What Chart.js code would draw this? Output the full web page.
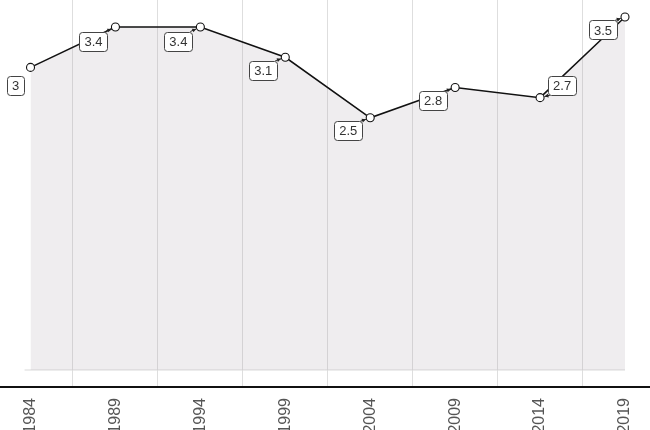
<!DOCTYPE html>
<html>
<head>
<meta charset="utf-8">
<script src="https://cdn.jsdelivr.net/npm/chart.js@4.4.1/dist/chart.umd.min.js"></script>
<style>
  html, body { margin: 0; padding: 0; background: #fff; }
  #wrap { width: 650px; height: 430px; }
</style>
</head>
<body>
<div id="wrap"><canvas id="lineChart"></canvas></div>
<script>
// values
const years = [1984, 1989, 1994, 1999, 2004, 2009, 2014, 2019];
const values = [3.0, 3.4, 3.4, 3.1, 2.5, 2.8, 2.7, 3.5];
const tickYears = [1984, 1989, 1994, 1999, 2004, 2009, 2014, 2019];
const gridYears = [1986.5, 1991.5, 1996.5, 2001.5, 2006.5, 2011.5, 2016.5];
const baseline = [{ x: 1983.65, y: 0 }, { x: 2019, y: 0 }];

// label box centre offset from its point, in px, and whether a leader is drawn
const labelOffsets = [[-15, 18], [-22, 14], [-22, 14], [-22, 13], [-22, 13], [-22, 13], [22, -12], [-22, 13]];
const showLeader = [false, true, true, true, true, true, true, true];

const FONT = "'Liberation Sans', Arial, sans-serif";

const valueLabels = {
    id: "valueLabels",
    afterDatasetsDraw(chart) {
        const ctx = chart.ctx;
        const meta = chart.getDatasetMeta(0);
        ctx.save();
        ctx.font = "13px " + FONT;
        ctx.textAlign = "center";
        ctx.textBaseline = "middle";
        meta.data.forEach(function (pt, i) {
            const txt = String(values[i]);
            const w = Math.round(ctx.measureText(txt).width + 10);
            const h = 19;
            const cx = pt.x + labelOffsets[i][0];
            const cy = pt.y + labelOffsets[i][1];
            if (showLeader[i]) {
                // leader line from box corner to the edge of the point
                const ex = cx + Math.sign(pt.x - cx) * (w / 2 - 2);
                const ey = cy + Math.sign(pt.y - cy) * (h / 2);
                const dx = pt.x - ex, dy = pt.y - ey;
                const len = Math.hypot(dx, dy);
                const ux = dx / len, uy = dy / len;
                const tx = pt.x - ux * 4.5, ty = pt.y - uy * 4.5;
                ctx.strokeStyle = "#222";
                ctx.fillStyle = "#222";
                ctx.lineWidth = 1;
                ctx.beginPath();
                ctx.moveTo(ex, ey);
                ctx.lineTo(tx, ty);
                ctx.stroke();
                ctx.beginPath();
                ctx.moveTo(tx, ty);
                ctx.lineTo(tx - ux * 4 - uy * 2, ty - uy * 4 + ux * 2);
                ctx.lineTo(tx - ux * 4 + uy * 2, ty - uy * 4 - ux * 2);
                ctx.closePath();
                ctx.fill();
            }
            // box
            ctx.fillStyle = "#fff";
            ctx.strokeStyle = "#444";
            ctx.beginPath();
            ctx.roundRect(Math.round(cx - w / 2) + 0.5, Math.round(cy - h / 2) + 0.5, w, h, 3);
            ctx.fill();
            ctx.stroke();
            ctx.fillStyle = "#333";
            ctx.fillText(txt, cx, cy + 1);
        });
        ctx.restore();
    }
};

function noPadding(scale) {
    scale.paddingLeft = 0;
    scale.paddingRight = 0;
    scale.paddingTop = 0;
    scale.paddingBottom = 0;
}

const lineChartCanvas = document.getElementById("lineChart").getContext("2d");
const lineChart = new Chart(lineChartCanvas, {
    type: "line",
    data: {
        datasets: [{
            data: years.map((y, i) => ({ x: y, y: values[i] })),
            borderColor: "#111",
            borderWidth: 1.5,
            fill: "origin",
            backgroundColor: "rgba(175,165,175,0.2)",
            pointRadius: 4,
            pointBackgroundColor: "#fff",
            pointBorderColor: "#111",
            pointBorderWidth: 1.1,
            tension: 0,
        }, {
            data: baseline,
            borderColor: "#d9d9d9",
            borderWidth: 1,
            pointRadius: 0,
            fill: false,
        }],
    },
    options: {
        responsive: true,
        maintainAspectRatio: false,
        animation: false,
        layout: { padding: 0, autoPadding: false },
        plugins: {
            legend: { display: false },
            tooltip: { enabled: false },
        },
        scales: {
            x: {
                type: "linear",
                min: 1982.204,
                max: 2020.472,
                afterBuildTicks: (scale) => { scale.ticks = tickYears.map(v => ({ value: v })); },
                afterFit: (scale) => { scale.height = 43; noPadding(scale); },
                grid: { display: false },
                border: { display: true, color: "#111", width: 2 },
                ticks: {
                    minRotation: 90,
                    maxRotation: 90,
                    padding: 3,
                    color: "#555",
                    font: { family: FONT, size: 16 },
                    callback: (v) => String(v),
                },
            },
            x2: {
                type: "linear",
                position: "bottom",
                min: 1982.204,
                max: 2020.472,
                afterBuildTicks: (scale) => { scale.ticks = gridYears.map(v => ({ value: v })); },
                afterFit: (scale) => { scale.height = 0; noPadding(scale); },
                grid: { color: "#dedede", lineWidth: 1, drawTicks: false },
                border: { display: false },
                ticks: { display: false },
            },
            y: {
                display: false,
                min: -0.1685,
                max: 3.668,
            },
        },
    },
    plugins: [valueLabels],
});
</script>
</body>
</html>
